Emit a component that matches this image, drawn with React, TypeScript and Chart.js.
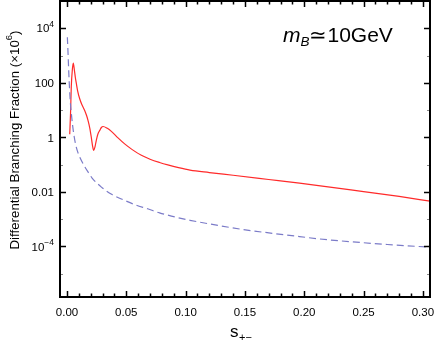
import React, { useEffect, useRef } from "react";
import { Chart, registerables } from "chart.js";

Chart.register(...registerables);

// Red solid curve
const redS = [0.0023, 0.003, 0.0036, 0.0045, 0.0053, 0.0062, 0.007, 0.0079, 0.009, 0.0107, 0.0125, 0.0149, 0.0165, 0.0177, 0.0192, 0.0205, 0.0215, 0.0225, 0.0236, 0.0247, 0.026, 0.0276, 0.029, 0.0304, 0.034, 0.0374, 0.043, 0.0486, 0.055, 0.0627, 0.07, 0.078, 0.085, 0.094, 0.1037, 0.12, 0.14, 0.17, 0.196, 0.212, 0.25, 0.28, 0.306];
const redV = [1.3, 8, 70, 300, 530, 300, 160, 93, 50, 26, 16, 9.7, 6.3, 4.2, 2.2, 1.0, 0.5, 0.33, 0.45, 0.78, 1.3, 1.8, 2.3, 2.5, 2.14, 1.66, 0.955, 0.575, 0.355, 0.219, 0.158, 0.12, 0.0977, 0.0776, 0.0631, 0.0513, 0.0407, 0.0285, 0.0209, 0.017, 0.0102, 0.0068, 0.0046];

// Blue dashed curve
const blueS = [0.0003, 0.0008, 0.0013, 0.002, 0.0028, 0.0036, 0.0047, 0.006, 0.0075, 0.0093, 0.011, 0.014, 0.0177, 0.021, 0.029, 0.038, 0.0486, 0.058, 0.068, 0.078, 0.088, 0.1037, 0.12, 0.137, 0.155, 0.174, 0.196, 0.212, 0.24, 0.27, 0.306];
const blueV = [4700, 1500, 400, 80, 20, 8, 2.8, 1.1, 0.5, 0.27, 0.18, 0.1, 0.054, 0.033, 0.015, 0.008, 0.0049, 0.0033, 0.0024, 0.0017, 0.0013, 0.00091, 0.00067, 0.0005, 0.00038, 0.0003, 0.00023, 0.00019, 0.000148, 0.000118, 0.000094];

const xTicks = [0, 0.05, 0.1, 0.15, 0.2, 0.25, 0.3];
const xTickLabels = ["0.00", "0.05", "0.10", "0.15", "0.20", "0.25", "0.30"];
const yTicks = [1e4, 100, 1, 0.01, 1e-4];
const yTickBase = ["10", "100", "1", "0.01", "10"];
const yTickSup = ["4", "", "", "", "\u22124"];
const yMinor = [1e5, 1e3, 10, 0.1, 1e-3, 1e-5];

const FONT = '"Liberation Sans", Arial, Helvetica, sans-serif';

const framePlugin = {
  id: "framePlugin",
  afterDatasetsDraw(chart: any) {
    const ctx = chart.ctx;
    const a = chart.chartArea;
    const xs = chart.scales.x;
    const ys = chart.scales.y;
    ctx.save();
    ctx.strokeStyle = "#000";
    ctx.lineWidth = 1.5;
    const tick = (x1: number, y1: number, x2: number, y2: number) => {
      ctx.beginPath();
      ctx.moveTo(x1, y1);
      ctx.lineTo(x2, y2);
      ctx.stroke();
    };
    for (let i = 0; i <= 30; i++) {
      const v = i * 0.01;
      const px = Math.round(xs.getPixelForValue(v)) + 0.5;
      const len = i % 5 === 0 ? 6 : 3.5;
      tick(px, a.bottom, px, a.bottom - len);
      tick(px, a.top, px, a.top + len);
    }
    for (const v of yTicks) {
      const py = Math.round(ys.getPixelForValue(v)) + 0.5;
      tick(a.left, py, a.left + 6, py);
      tick(a.right, py, a.right - 6, py);
    }
    ctx.lineWidth = 1;
    ctx.strokeStyle = "#888";
    for (const v of yMinor) {
      const py = Math.round(ys.getPixelForValue(v)) + 0.5;
      if (py < a.top + 2 || py > a.bottom - 2) continue;
      tick(a.left, py, a.left + 3, py);
      tick(a.right, py, a.right - 3, py);
    }
    ctx.strokeStyle = "#000";
    ctx.lineWidth = 2;
    ctx.strokeRect(a.left, a.top, a.right - a.left, a.bottom - a.top);

    ctx.fillStyle = "#000";
    ctx.font = `11.5px ${FONT}`;
    ctx.textAlign = "center";
    ctx.textBaseline = "middle";
    xTicks.forEach((v, i) => {
      ctx.fillText(xTickLabels[i], xs.getPixelForValue(v), 313);
    });
    yTicks.forEach((v, i) => {
      const py = ys.getPixelForValue(v) + 1;
      const right = 54;
      ctx.textAlign = "left";
      ctx.textBaseline = "middle";
      const sup = yTickSup[i];
      ctx.font = `8.5px ${FONT}`;
      const wSup = sup ? ctx.measureText(sup).width : 0;
      ctx.font = `11.5px ${FONT}`;
      const wBase = ctx.measureText(yTickBase[i]).width;
      const x0 = right - wSup - wBase;
      ctx.fillText(yTickBase[i], x0, py);
      if (sup) {
        ctx.font = `8.5px ${FONT}`;
        ctx.fillText(sup, x0 + wBase, py - 5);
      }
    });

    // y title
    ctx.save();
    ctx.translate(15, 140);
    ctx.rotate(-Math.PI / 2);
    ctx.textAlign = "left";
    ctx.textBaseline = "middle";
    const t1 = "Differential Branching Fraction (\u00d710";
    const t2 = "6";
    const t3 = ")";
    ctx.font = `13.3px ${FONT}`;
    const w1 = ctx.measureText(t1).width;
    const w3 = ctx.measureText(t3).width;
    ctx.font = `9.5px ${FONT}`;
    const w2 = ctx.measureText(t2).width;
    let sx = -(w1 + w2 + w3) / 2;
    ctx.font = `13.3px ${FONT}`;
    ctx.fillText(t1, sx, 0);
    sx += w1;
    ctx.font = `9.5px ${FONT}`;
    ctx.fillText(t2, sx, -5.5);
    sx += w2;
    ctx.font = `13.3px ${FONT}`;
    ctx.fillText(t3, sx, 0);
    ctx.restore();

    // x title
    ctx.textAlign = "left";
    ctx.textBaseline = "alphabetic";
    ctx.font = `17px ${FONT}`;
    ctx.fillText("s", 230, 337);
    const ws = ctx.measureText("s").width;
    ctx.font = `11px ${FONT}`;
    ctx.fillText("+\u2212", 230 + ws + 0.5, 341);

    // annotation
    let ax = 283;
    ctx.font = `italic 21px ${FONT}`;
    ctx.fillText("m", ax, 42);
    ax += ctx.measureText("m").width;
    ctx.font = `italic 13.5px ${FONT}`;
    ctx.fillText("B", ax, 46);
    ax += ctx.measureText("B").width;
    ctx.font = `21px ${FONT}`;
    ctx.fillText("\u224310GeV", ax, 42);

    ctx.restore();
  },
};

export default function App() {
  const ref = useRef<HTMLCanvasElement>(null);
  useEffect(() => {
    if (!ref.current) return;
    const chart = new Chart(ref.current, {
      type: "line",
      data: {
        datasets: [
          {
            data: blueS.map((s, i) => ({ x: s, y: blueV[i] })),
            borderColor: "#7b7bc8",
            borderWidth: 1.2,
            borderDash: [7, 4],
            pointRadius: 0,
            cubicInterpolationMode: "monotone",
            fill: false,
          },
          {
            data: redS.map((s, i) => ({ x: s, y: redV[i] })),
            borderColor: "#ff2a2a",
            borderWidth: 1.2,
            pointRadius: 0,
            cubicInterpolationMode: "monotone",
            fill: false,
          },
        ],
      },
      options: {
        animation: false,
        responsive: false,
        devicePixelRatio: 1,
        layout: { padding: { left: 0, right: 6, top: 1, bottom: 0 } },
        plugins: { legend: { display: false }, tooltip: { enabled: false } },
        scales: {
          x: {
            type: "linear",
            min: -0.0059,
            max: 0.306,
            ticks: { display: false },
            grid: { display: false },
            border: { display: false },
            afterFit: (s: any) => {
              s.height = 64;
            },
          },
          y: {
            type: "logarithmic",
            min: 1.4e-6,
            max: 1e5,
            ticks: { display: false },
            grid: { display: false },
            border: { display: false },
            afterFit: (s: any) => {
              s.width = 60;
            },
          },
        },
      },
      plugins: [framePlugin],
    } as any);
    return () => chart.destroy();
  }, []);
  return (
    <div style={{ position: "fixed", left: 0, top: 0, width: 436, height: 361, background: "#fff" }}>
      <canvas ref={ref} width={436} height={361} />
    </div>
  );
}
